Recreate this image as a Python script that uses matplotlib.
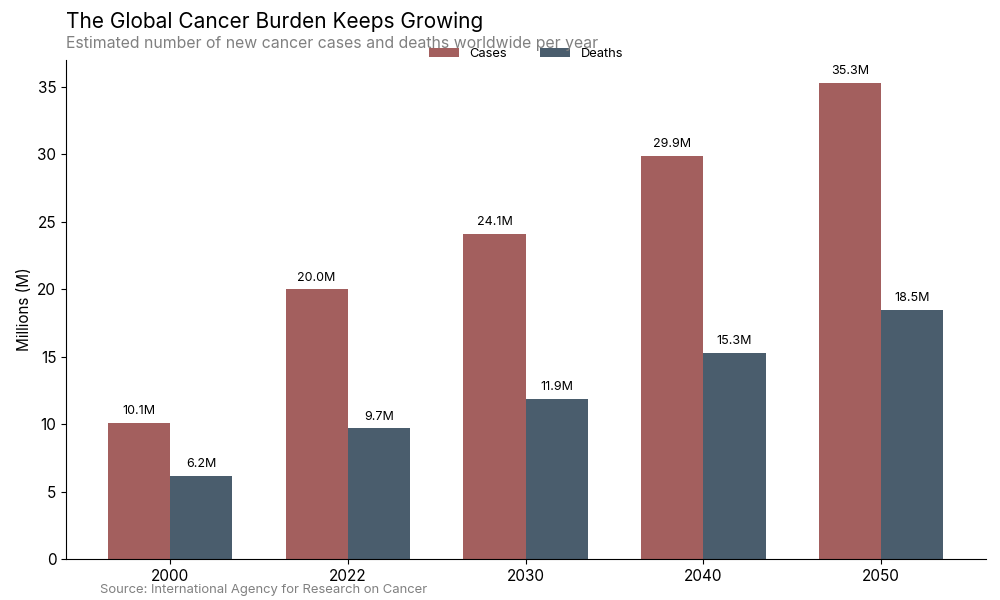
import matplotlib
matplotlib.use("Agg")
from matplotlib import pyplot as plt
import numpy as np

plt.rcParams['font.family'] = ['Inter', 'DejaVu Sans']

years = ['2000', '2022', '2030', '2040', '2050']
cases = [10.1, 20.0, 24.1, 29.9, 35.3]
deaths = [6.2, 9.7, 11.9, 15.3, 18.5]

case_color = '#a35f5e'
death_color = '#4a5d6d'

fig = plt.figure(figsize=(10, 6), dpi=100)
ax = fig.add_axes([0.066, 0.068, 0.92, 0.832])

x = np.arange(len(years))
w = 0.35
b1 = ax.bar(x - w / 2, cases, w, color=case_color, label='Cases')
b2 = ax.bar(x + w / 2, deaths, w, color=death_color, label='Deaths')

for bars, vals in [(b1, cases), (b2, deaths)]:
    for bar, v in zip(bars, vals):
        ax.annotate(f'{v:.1f}M', (bar.get_x() + bar.get_width() / 2, v),
                    xytext=(0, 4), textcoords='offset points',
                    ha='center', va='bottom', fontsize=9)

ax.set_xticks(x)
ax.set_xticklabels(years)
ax.set_xlim(-0.585, 4.59)
ax.set_ylim(0, 37)
ax.set_yticks(range(0, 36, 5))
ax.tick_params(labelsize=11)
ax.set_ylabel('Millions (M)', fontsize=11)
ax.spines['top'].set_visible(False)
ax.spines['right'].set_visible(False)

# legend sits on the subtitle line, like the original
ax.legend(loc='lower center', bbox_to_anchor=(0.5, 1.0), ncol=2, frameon=False,
          fontsize=9.3, handlelength=2.3, handleheight=0.8, columnspacing=2.6,
          borderpad=0, borderaxespad=0)

fig.text(0.066, 0.963, 'The Global Cancer Burden Keeps Growing', fontsize=15, va='center')
fig.text(0.066, 0.927, 'Estimated number of new cancer cases and deaths worldwide per year',
         fontsize=11.4, color='#808080', va='center')
fig.text(0.1, 0.017, 'Source: International Agency for Research on Cancer',
         fontsize=9.4, color='#808080', va='center')

fig.savefig('out.png', dpi=100)
